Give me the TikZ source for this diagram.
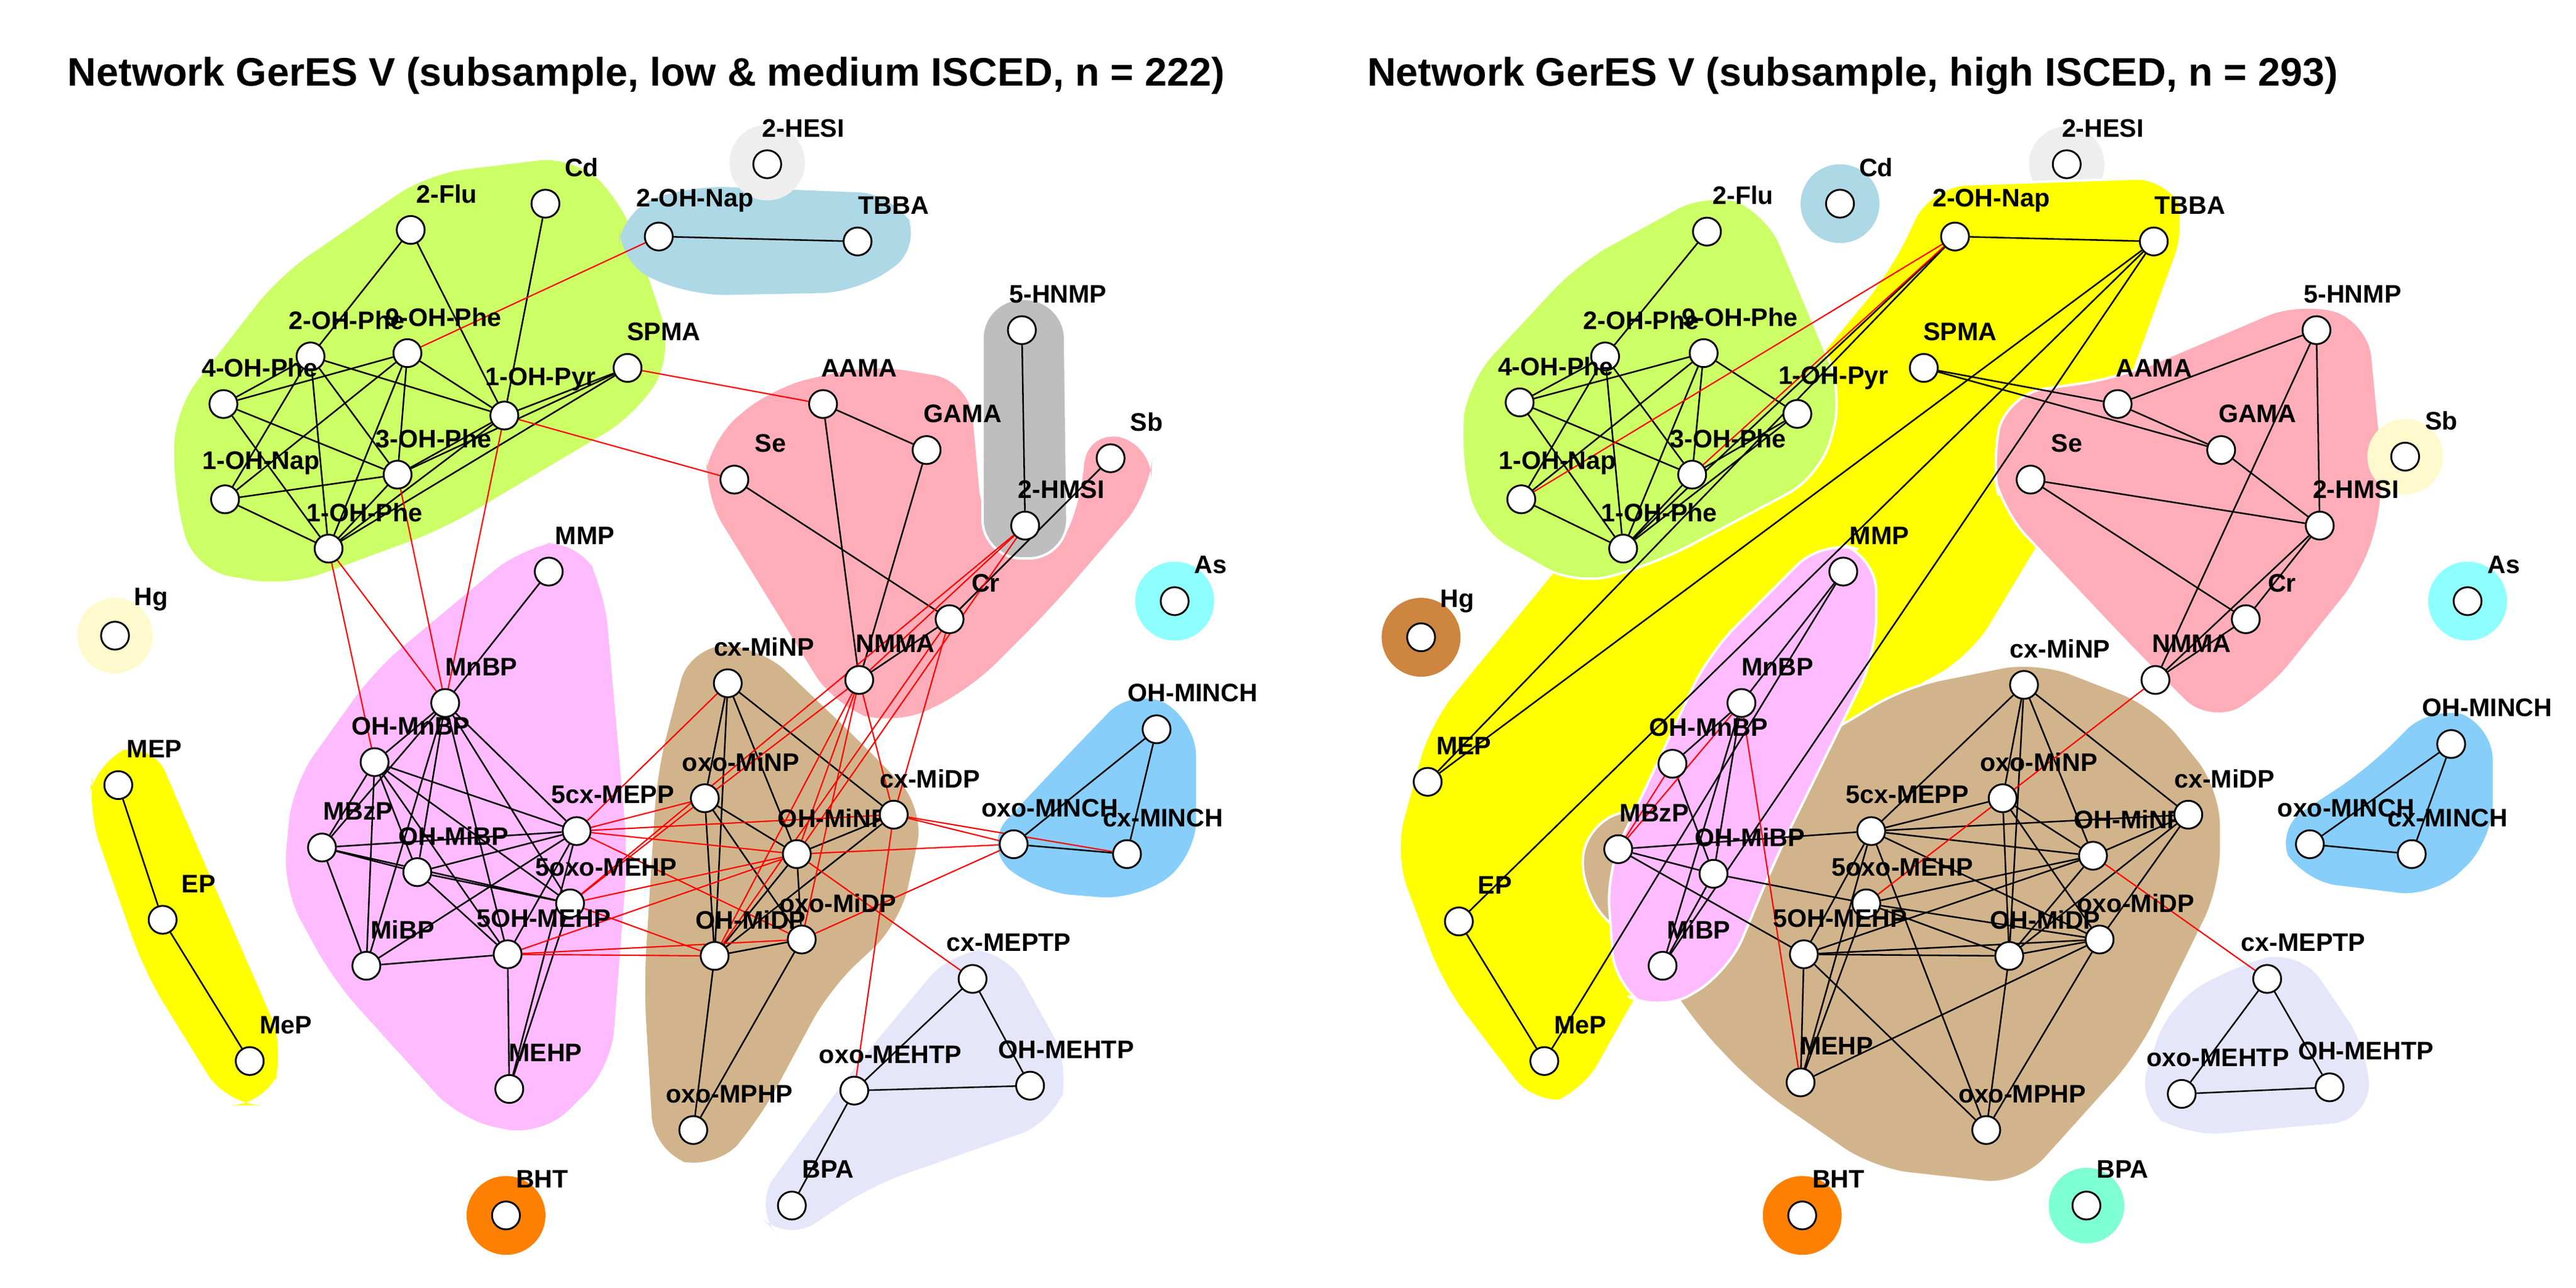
\documentclass[tikz,border=0pt]{standalone}
\usepackage{fontspec}
\setmainfont{Liberation Sans}
\pgfdeclarelayer{hull}\pgfdeclarelayer{edges}
\pgfsetlayers{hull,edges,main}
\definecolor{cgreen}{HTML}{CCFF66}
\definecolor{cblue}{HTML}{ADD8E6}
\definecolor{cgrey}{HTML}{BEBEBE}
\definecolor{cpink}{HTML}{FFAEB9}
\definecolor{cmag}{HTML}{FFBBFF}
\definecolor{cbrown}{HTML}{D2B48C}
\definecolor{ccyan}{HTML}{8EFFFF}
\definecolor{csky}{HTML}{87CEFA}
\definecolor{clav}{HTML}{E6E6FA}
\definecolor{cyel}{HTML}{FFFF00}
\definecolor{ccream}{HTML}{FFFACD}
\definecolor{corange}{HTML}{FF8000}
\definecolor{cperu}{HTML}{CD853F}
\definecolor{caqua}{HTML}{7FFFD4}
\definecolor{cwhite}{HTML}{EEEEEE}
\definecolor{cred}{HTML}{FF0000}
\tikzset{
 nd/.style={circle,draw=black,fill=white,line width=1.1mm,minimum size=17mm,inner sep=0},
 lb/.style={font=\fontsize{44}{44}\selectfont\bfseries},
 ttl/.style={font=\fontsize{69}{69}\selectfont\bfseries,anchor=west},
 e/.style={draw=black,line width=0.95mm},
 r/.style={draw=cred,line width=0.8mm},
 hl/.style={rounded corners=22mm},
 wb/.style={draw=white,line width=1.5mm},
}
\newcommand\nd[4]{\node[nd] (#1) at (#2,#3) {}; \node[lb] (#1t) at (#2+22,#3-22) {#4};}
\begin{document}
\begin{tikzpicture}[x=1mm,y=-1mm]
\useasboundingbox (0,0) rectangle (1568,784);
\node[ttl] (t1) at (40,46) {Network GerES V (subsample, low \& medium ISCED, n = 222)};
\node[ttl] (t2) at (831,46) {Network GerES V (subsample, high ISCED, n = 293)};
\begin{pgfonlayer}{hull}
% left hulls
\fill[cgreen,hl] (106,250)--(170,168)--(260,106)--(350,95)--(380,125)--(410,215)--(388,252)--(270,322)--(175,357)--(118,347)--(106,300)--cycle;
\fill[cblue,hl] (378,128)--(420,113)--(545,118)--(562,150)--(522,178)--(420,180)--(376,160)--cycle;
\fill[cwhite] (467,99) circle (23);
\fill[cpink,hl] (470,236)--(530,222)--(590,232)--(598,320)--(640,345)--(660,300)--(660,262)--(702,270)--(700,300)--(640,370)--(590,420)--(545,442)--(508,430)--(428,300)--(432,268)--cycle;
\filldraw[cgrey,wb,rounded corners=24mm,fill=cgrey] (598,182)--(648,182)--(650,340)--(598,340)--cycle;
\fill[ccyan] (715,366) circle (24);
\fill[ccream] (70,387) circle (23);
\fill[cbrown,hl] (420,393)--(462,393)--(522,450)--(563,492)--(548,562)--(505,602)--(462,682)--(435,713)--(398,702)--(392,600)--(400,470)--cycle;
\fill[cmag,hl] (318,333)--(352,328)--(368,360)--(382,520)--(372,650)--(330,692)--(280,682)--(203,597)--(172,540)--(178,478)--(228,408)--cycle;
\fill[csky,hl] (690,418)--(728,438)--(728,522)--(692,548)--(630,543)--(598,515)--(640,470)--cycle;
\fill[clav,hl] (580,578)--(612,578)--(652,650)--(642,683)--(530,722)--(478,757)--(458,735)--(520,650)--cycle;
\fill[cyel,hl] (58,463)--(92,450)--(122,520)--(174,640)--(162,673)--(138,673)--(88,592)--(53,492)--cycle;
\fill[corange] (308,740) circle (24);
% right hulls
\fill[cblue] (1120,124) circle (24);
\fill[cwhite] (1258,100) circle (23);
\filldraw[fill=cyel,wb,hl] (1175,113)--(1322,108)--(1332,135)--(1290,250)--(1200,400)--(1100,455)--(1000,600)--(962,668)--(935,675)--(878,600)--(848,520)--(870,440)--(960,330)--(1080,250)--(1150,165)--cycle;
\filldraw[fill=cgreen,wb,hl] (893,232)--(960,160)--(1040,116)--(1075,128)--(1122,240)--(1108,290)--(1010,342)--(960,357)--(898,322)--(888,270)--cycle;
\filldraw[fill=cpink,wb,hl] (1222,240)--(1290,230)--(1400,183)--(1442,195)--(1452,300)--(1440,347)--(1380,422)--(1345,442)--(1300,397)--(1218,310)--(1212,280)--cycle;
\fill[ccream] (1464,278) circle (23);
\filldraw[fill=cbrown,wb,hl] (965,500)--(1060,478)--(1160,418)--(1240,402)--(1312,430)--(1352,480)--(1352,540)--(1302,642)--(1230,722)--(1140,712)--(1068,662)--(1030,622)--(1010,590)--(962,545)--cycle;
\filldraw[fill=cmag,wb,hl] (1110,328)--(1142,338)--(1142,398)--(1082,520)--(1052,592)--(1010,617)--(983,602)--(978,530)--(1040,398)--cycle;
\fill[cperu] (865,388) circle (24);
\fill[ccyan] (1502,366) circle (24);
\filldraw[fill=csky,wb,hl] (1480,428)--(1518,440)--(1518,512)--(1482,547)--(1400,537)--(1383,505)--(1440,468)--cycle;
\fill[clav,hl] (1360,588)--(1400,578)--(1442,640)--(1442,682)--(1330,692)--(1300,672)--(1320,612)--cycle;
\fill[corange] (1097,740) circle (24);
\fill[caqua] (1270,734) circle (23);
\end{pgfonlayer}
% ---- left nodes
\nd{LHESI}{467}{100}{2-HESI}
\nd{LCd}{332}{124}{Cd}
\nd{LFlu}{250}{140}{2-Flu}
\nd{LNapb}{401}{144}{2-OH-Nap}
\nd{LTBBA}{522}{147}{TBBA}
\nd{LPheb}{189}{217}{2-OH-Phe}
\nd{LPhei}{248}{215}{9-OH-Phe}
\nd{LPhed}{136}{246}{4-OH-Phe}
\nd{LNapa}{137}{304}{1-OH-Nap}
\nd{LPhec}{242}{289}{3-OH-Phe}
\nd{LPhea}{200}{334}{1-OH-Phe}
\nd{LPyr}{307}{253}{1-OH-Pyr}
\nd{LSPMA}{382}{224}{SPMA}
\nd{LHNMP}{622}{201}{5-HNMP}
\nd{LAAMA}{501}{246}{AAMA}
\nd{LGAMA}{564}{274}{GAMA}
\nd{LSe}{447}{292}{Se}
\nd{LSb}{676}{279}{Sb}
\nd{LHMSI}{624}{320}{2-HMSI}
\nd{LCr}{578}{377}{Cr}
\nd{LNMMA}{523}{414}{NMMA}
\nd{LAs}{715}{366}{As}
\nd{LHg}{70}{387}{Hg}
\nd{LMMP}{334}{348}{MMP}
\nd{LMnBP}{271}{428}{MnBP}
\nd{LOHMnBP}{228}{464}{OH-MnBP}
\nd{LMBzP}{196}{516}{MBzP}
\nd{LOHMiBP}{254}{531}{OH-MiBP}
\nd{LMiBP}{223}{588}{MiBP}
\nd{LcxMEPP}{351}{506}{5cx-MEPP}
\nd{LoxoMEHP}{347}{550}{5oxo-MEHP}
\nd{LOHMEHP}{309}{581}{5OH-MEHP}
\nd{LMEHP}{310}{663}{MEHP}
\nd{LcxMiNP}{443}{416}{cx-MiNP}
\nd{LoxoMiNP}{429}{486}{oxo-MiNP}
\nd{LOHMiNP}{485}{520}{OH-MiNP}
\nd{LcxMiDP}{544}{496}{cx-MiDP}
\nd{LOHMiDP}{435}{582}{OH-MiDP}
\nd{LoxoMiDP}{488}{572}{oxo-MiDP}
\nd{LoxoMPHP}{422}{688}{oxo-MPHP}
\nd{LOHMINCH}{704}{444}{OH-MINCH}
\nd{LoxoMINCH}{617}{514}{oxo-MINCH}
\nd{LcxMINCH}{686}{520}{cx-MINCH}
\nd{LcxMEPTP}{592}{596}{cx-MEPTP}
\nd{LoxoMEHTP}{520}{664}{oxo-MEHTP}
\nd{LOHMEHTP}{627}{661}{OH-MEHTP}
\nd{LBPA}{482}{734}{BPA}
\nd{LBHT}{308}{740}{BHT}
\nd{LMEP}{72}{478}{MEP}
\nd{LEP}{99}{560}{EP}
\nd{LMeP}{152}{646}{MeP}
% ---- right nodes
\nd{RHESI}{1258}{100}{2-HESI}
\nd{RCd}{1120}{124}{Cd}
\nd{RFlu}{1039}{141}{2-Flu}
\nd{RNapb}{1190}{144}{2-OH-Nap}
\nd{RTBBA}{1311}{147}{TBBA}
\nd{RPheb}{977}{217}{2-OH-Phe}
\nd{RPhei}{1037}{215}{9-OH-Phe}
\nd{RPhed}{925}{245}{4-OH-Phe}
\nd{RNapa}{926}{304}{1-OH-Nap}
\nd{RPhec}{1030}{289}{3-OH-Phe}
\nd{RPhea}{988}{334}{1-OH-Phe}
\nd{RPyr}{1094}{252}{1-OH-Pyr}
\nd{RSPMA}{1171}{224}{SPMA}
\nd{RHNMP}{1410}{201}{5-HNMP}
\nd{RAAMA}{1289}{246}{AAMA}
\nd{RGAMA}{1352}{274}{GAMA}
\nd{RSe}{1236}{292}{Se}
\nd{RSb}{1464}{278}{Sb}
\nd{RHMSI}{1412}{320}{2-HMSI}
\nd{RCr}{1367}{377}{Cr}
\nd{RNMMA}{1312}{414}{NMMA}
\nd{RAs}{1502}{366}{As}
\nd{RHg}{865}{388}{Hg}
\nd{RMMP}{1122}{348}{MMP}
\nd{RMnBP}{1060}{428}{MnBP}
\nd{ROHMnBP}{1018}{465}{OH-MnBP}
\nd{RMBzP}{985}{517}{MBzP}
\nd{ROHMiBP}{1043}{532}{OH-MiBP}
\nd{RMiBP}{1012}{588}{MiBP}
\nd{RcxMEPP}{1139}{506}{5cx-MEPP}
\nd{RoxoMEHP}{1136}{550}{5oxo-MEHP}
\nd{ROHMEHP}{1098}{581}{5OH-MEHP}
\nd{RMEHP}{1096}{659}{MEHP}
\nd{RcxMiNP}{1232}{417}{cx-MiNP}
\nd{RoxoMiNP}{1219}{486}{oxo-MiNP}
\nd{ROHMiNP}{1274}{521}{OH-MiNP}
\nd{RcxMiDP}{1332}{496}{cx-MiDP}
\nd{ROHMiDP}{1223}{582}{OH-MiDP}
\nd{RoxoMiDP}{1278}{572}{oxo-MiDP}
\nd{RoxoMPHP}{1209}{688}{oxo-MPHP}
\nd{ROHMINCH}{1492}{453}{OH-MINCH}
\nd{RoxoMINCH}{1406}{514}{oxo-MINCH}
\nd{RcxMINCH}{1468}{520}{cx-MINCH}
\nd{RcxMEPTP}{1380}{596}{cx-MEPTP}
\nd{RoxoMEHTP}{1328}{666}{oxo-MEHTP}
\nd{ROHMEHTP}{1418}{662}{OH-MEHTP}
\nd{RBPA}{1270}{734}{BPA}
\nd{RBHT}{1097}{740}{BHT}
\nd{RMEP}{869}{476}{MEP}
\nd{REP}{888}{561}{EP}
\nd{RMeP}{940}{646}{MeP}
\begin{pgfonlayer}{edges}
% left black
\foreach \a/\b in {LFlu/LPheb,LFlu/LPyr,LCd/LPyr,LPheb/LPhed,LPheb/LNapa,LPheb/LPhea,LPheb/LPhec,LPheb/LPyr,
 LPhei/LPhed,LPhei/LNapa,LPhei/LPhea,LPhei/LPhec,LPhei/LPyr,LPhed/LPhec,LPhed/LPhea,LNapa/LPhec,LNapa/LPhea,
 LPhec/LPyr,LPhec/LSPMA,LPhea/LPyr,LPhea/LSPMA,LPyr/LSPMA,LPhec/LPhea,LNapb/LTBBA,
 LAAMA/LGAMA,LAAMA/LNMMA,LGAMA/LNMMA,LSe/LCr,LHNMP/LHMSI,LSb/LCr,LCr/LNMMA,
 LcxMiNP/LoxoMiNP,LcxMiNP/LOHMiNP,LcxMiNP/LOHMiDP,LcxMiNP/LcxMiDP,
 LMMP/LMnBP,LMnBP/LOHMnBP,LMnBP/LMBzP,LMnBP/LOHMiBP,LMnBP/LMiBP,LMnBP/LcxMEPP,LMnBP/LOHMEHP,LMnBP/LoxoMEHP,
 LOHMnBP/LMBzP,LOHMnBP/LOHMiBP,LOHMnBP/LcxMEPP,LOHMnBP/LOHMEHP,LOHMnBP/LMiBP,LOHMnBP/LoxoMEHP,
 LMBzP/LcxMEPP,LMBzP/LoxoMEHP,LMBzP/LMiBP,LMBzP/LOHMiBP,LOHMiBP/LcxMEPP,LOHMiBP/LOHMEHP,LOHMiBP/LoxoMEHP,
 LMiBP/LOHMEHP,LMiBP/LcxMEPP,LcxMEPP/LOHMEHP,LcxMEPP/LMEHP,LOHMEHP/LMEHP,LoxoMEHP/LMEHP,
 LoxoMiNP/LOHMiDP,LoxoMiNP/LOHMiNP,LoxoMiNP/LoxoMiDP,LOHMiNP/LcxMiDP,LOHMiNP/LOHMiDP,LOHMiNP/LoxoMiDP,
 LcxMiDP/LOHMiDP,LOHMiDP/LoxoMiDP,LOHMiDP/LoxoMPHP,LoxoMiDP/LoxoMPHP,
 LMEP/LEP,LEP/LMeP,LoxoMINCH/LOHMINCH,LoxoMINCH/LcxMINCH,LOHMINCH/LcxMINCH,
 LcxMEPTP/LoxoMEHTP,LcxMEPTP/LOHMEHTP,LoxoMEHTP/LOHMEHTP,LoxoMEHTP/LBPA}
 \draw[e] (\a)--(\b);
% left red
\foreach \a/\b in {LNapb/LPhei,LSPMA/LAAMA,LPyr/LSe,LPyr/LMnBP,LPhec/LMnBP,LPhea/LMnBP,LPhea/LOHMnBP,
 LHMSI/LNMMA,LHMSI/LOHMiNP,LHMSI/LoxoMEHP,LNMMA/LoxoMiNP,LNMMA/LOHMiNP,LNMMA/LOHMiDP,LNMMA/LoxoMiDP,LNMMA/LcxMiDP,
 LCr/LOHMiDP,LCr/LcxMiDP,LcxMiNP/LcxMEPP,
 LcxMEPP/LoxoMiNP,LcxMEPP/LOHMiNP,LcxMEPP/LcxMiDP,LcxMEPP/LoxoMiDP,LoxoMEHP/LOHMiNP,LoxoMEHP/LoxoMiNP,LoxoMEHP/LOHMiDP,
 LOHMEHP/LOHMiNP,LOHMEHP/LOHMiDP,LOHMEHP/LoxoMiDP,LOHMiNP/LoxoMINCH,LcxMiDP/LoxoMINCH,LcxMiDP/LcxMINCH,
 LoxoMiDP/LoxoMINCH,LOHMiNP/LcxMEPTP,LcxMiDP/LoxoMEHTP}
 \draw[r] (\a)--(\b);
% right black
\foreach \a/\b in {RFlu/RPheb,RPhed/RPhei,RPhed/RPheb,RPhed/RPhec,RPhed/RPhea,RPheb/RNapa,RPheb/RPhea,RPheb/RPhec,
 RPhei/RNapa,RPhei/RPhec,RPhei/RPhea,RPhei/RPyr,RNapa/RPhea,RPhec/RPyr,RPhea/RPyr,RPhea/RPhec,RNapb/RPhea,
 RNapb/RTBBA,RTBBA/RMEP,RNapb/RMEP,RTBBA/REP,RTBBA/RMiBP,RMMP/RMeP,REP/RMeP,
 RSPMA/RAAMA,RSPMA/RGAMA,RAAMA/RHNMP,RAAMA/RGAMA,RHNMP/RHMSI,RHNMP/RNMMA,RGAMA/RHMSI,RSe/RHMSI,RSe/RCr,
 RHMSI/RCr,RHMSI/RNMMA,RCr/RNMMA,
 RMMP/RMnBP,RMnBP/ROHMnBP,RMnBP/ROHMiBP,RMnBP/RMiBP,ROHMnBP/ROHMiBP,RMBzP/ROHMiBP,RMBzP/RcxMEPP,RMBzP/ROHMEHP,
 ROHMiBP/RoxoMEHP,ROHMiBP/RMiBP,
 RcxMiNP/RcxMEPP,RcxMiNP/RoxoMiNP,RcxMiNP/ROHMiDP,RcxMiNP/ROHMiNP,RcxMiNP/RcxMiDP,
 RcxMEPP/RoxoMiNP,RcxMEPP/RcxMiDP,RcxMEPP/ROHMiNP,RcxMEPP/RoxoMiDP,RcxMEPP/ROHMEHP,RcxMEPP/RMEHP,RcxMEPP/RoxoMPHP,
 RoxoMEHP/ROHMiNP,RoxoMEHP/ROHMiDP,RoxoMEHP/RMEHP,RoxoMEHP/RoxoMiDP,
 ROHMEHP/ROHMiDP,ROHMEHP/RoxoMiDP,ROHMEHP/ROHMiNP,ROHMEHP/RMEHP,ROHMEHP/RoxoMPHP,
 RoxoMiNP/ROHMiDP,RoxoMiNP/RoxoMiDP,RoxoMiNP/ROHMiNP,ROHMiNP/RcxMiDP,ROHMiNP/ROHMiDP,RcxMiDP/ROHMiDP,RcxMiDP/RoxoMiDP,
 ROHMiDP/RoxoMiDP,ROHMiDP/RoxoMPHP,RoxoMiDP/RMEHP,RoxoMiDP/RoxoMPHP,
 ROHMINCH/RoxoMINCH,ROHMINCH/RcxMINCH,RoxoMINCH/RcxMINCH,RcxMEPTP/RoxoMEHTP,RcxMEPTP/ROHMEHTP,RoxoMEHTP/ROHMEHTP}
 \draw[e] (\a)--(\b);
% right red
\foreach \a/\b in {RNapb/RNapa,RNapb/RPhec,RNMMA/RoxoMiNP,RMnBP/RMBzP,RMnBP/RMEHP,ROHMnBP/RMBzP,RoxoMEHP/RoxoMiNP,ROHMiNP/RcxMEPTP}
 \draw[r] (\a)--(\b);
\end{pgfonlayer}
\end{tikzpicture}
\end{document}
